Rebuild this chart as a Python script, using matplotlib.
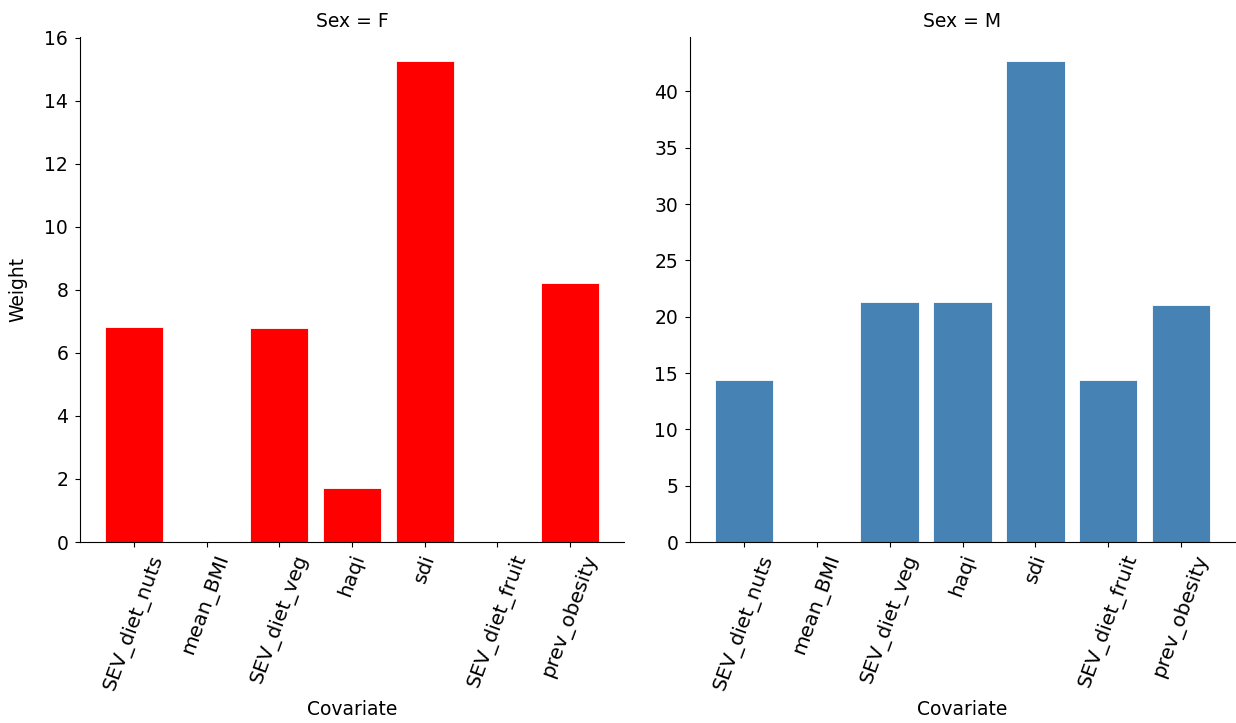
import matplotlib
matplotlib.use("Agg")
import matplotlib.pyplot as plt

covariates = ["SEV_diet_nuts", "mean_BMI", "SEV_diet_veg", "haqi", "sdi",
              "SEV_diet_fruit", "prev_obesity"]
weights_f = [6.83, 0.0, 6.78, 1.72, 15.26, 0.0, 8.21]
weights_m = [14.4, 0.0, 21.3, 21.3, 42.7, 14.4, 21.0]

W, H = 1236, 723
fig = plt.figure(figsize=(W / 100, H / 100), dpi=100)
ax_f = fig.add_axes([80 / W, 1 - 542 / H, 544 / W, 505 / H])
ax_m = fig.add_axes([690 / W, 1 - 542 / H, 545 / W, 505 / H])

fs = 13.5
for ax, vals, color, title in [(ax_f, weights_f, "red", "Sex = F"),
                               (ax_m, weights_m, "steelblue", "Sex = M")]:
    ax.bar(covariates, vals, width=0.8, color=color, edgecolor="white", linewidth=0.6)
    ax.set_title(title, fontsize=fs, pad=7)
    ax.set_xlabel("Covariate", fontsize=fs, labelpad=5)
    ax.spines["top"].set_visible(False)
    ax.spines["right"].set_visible(False)
    ax.tick_params(axis="y", labelsize=fs, pad=5)
    ax.tick_params(axis="x", labelsize=14.5, labelrotation=70)

ax_f.set_ylabel("Weight", fontsize=fs, labelpad=12)

fig.savefig("out.png", dpi=100)
